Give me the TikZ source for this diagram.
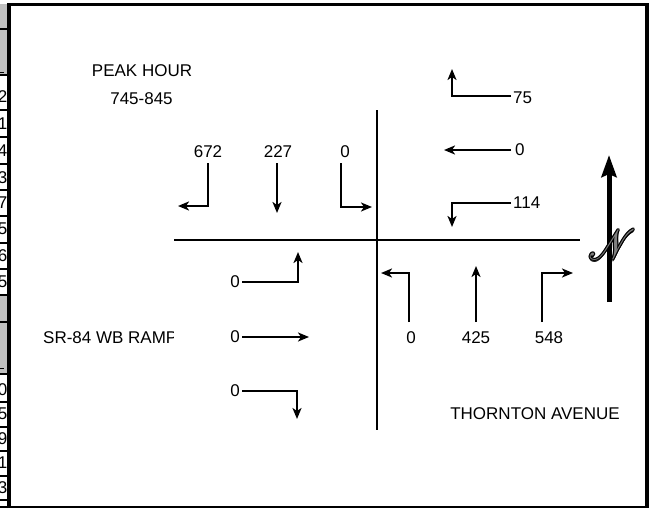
\documentclass[tikz,border=0pt]{standalone}
\usepackage{fontspec}
\setmainfont{Liberation Sans}
\usepackage{mathrsfs}
\usetikzlibrary{arrows.meta,calc}
\definecolor{cellgray}{RGB}{192,192,192}
\definecolor{ngray}{RGB}{128,128,128}
\newcommand{\northN}{\scalebox{1.5}[1.7]{\fontsize{24.88}{25}\selectfont$\mathscr{N}$}}
\begin{document}
\begin{tikzpicture}[x=1pt,y=-1pt,
  lbl/.style={font=\fontsize{17}{20}\selectfont, inner sep=0pt},
  mv/.style={line width=2pt, -{Stealth[length=11pt,width=9pt,inset=3pt]}},
  road/.style={line width=2pt},
  frame/.style={line width=3.5pt},
  cellline/.style={line width=1.3pt},
  nletter/.style={inner sep=0pt}]
\useasboundingbox (0,0) rectangle (652,508);
% --- left strip (cut-off table) ---
\begin{scope}
\clip (0,0) rectangle (9,508);
\fill[cellgray] (0,4) rectangle (8,28);
\fill[cellgray] (0,30) rectangle (8,74);
\fill[cellgray] (0,296) rectangle (8,321);
\fill[cellgray] (0,323) rectangle (8,373);
\foreach \yy in {29,75,110,137,164,190,216,243,269,295,322,374,402,427,451,476,500}
  \draw[cellline] (0,\yy) -- (9,\yy);
\draw[line width=1.3pt] (0,72.5) -- (4,72.5);
\draw[line width=1.3pt] (0,368.5) -- (4,368.5);
\foreach \v/\yy [count=\i] in {2/97,1/124,4/151,3/178,7/203,5/229,6/256,5/282,0/390,5/414,9/439,1/463,3/488}
  \node[lbl,anchor=east] (t\i) at (7.5,\yy) {\v};
\end{scope}
% --- frame ---
\draw[frame] (9,508) -- (9,4.7) -- (647,4.7) -- (647,508);
\draw[line width=1.2pt] (0,507) -- (647,507);
% --- roads ---
\coordinate (vt) at (376.5,110); \coordinate (vb) at (376.5,430);
\coordinate (hl) at (174,240); \coordinate (hr) at (580,240);
\draw[road] (vt) -- (vb);
\draw[road] (hl) -- (hr);
% --- texts ---
\node[lbl] (peak) at (142,71) {PEAK HOUR};
\node[lbl] (time) at (141.5,99) {745-845};
\begin{scope}
\clip (40,320) rectangle (173.5,355);
\node[lbl,anchor=west] (sr) at (43,338) {SR-84 WB RAMP};
\end{scope}
\node[lbl] (thornton) at (535,414) {THORNTON AVENUE};
% --- southbound (north leg) ---
\node[lbl] (sbl) at (208,152) {672};
\node[lbl] (sbt) at (278,152) {227};
\node[lbl] (sbr) at (345,152) {0};
\coordinate (a1) at (208,163); \coordinate (a1e) at (178,206);
\coordinate (a2) at (277,163); \coordinate (a2e) at (277,213);
\coordinate (a3) at (341,163); \coordinate (a3e) at (372,207);
\draw[mv] (a1) |- (a1e);
\draw[mv] (a2) -- (a2e);
\draw[mv] (a3) |- (a3e);
% --- westbound (east leg) ---
\node[lbl,anchor=west] (wbr) at (513,98) {75};
\node[lbl,anchor=west] (wbt) at (515,150) {0};
\node[lbl,anchor=west] (wbl) at (513,203) {114};
\coordinate (b1) at (511,96); \coordinate (b1e) at (452,69);
\coordinate (b2) at (511,150); \coordinate (b2e) at (444,150);
\coordinate (b3) at (511,203); \coordinate (b3e) at (452,227);
\draw[mv] (b1) -| (b1e);
\draw[mv] (b2) -- (b2e);
\draw[mv] (b3) -| (b3e);
% --- eastbound (west leg) ---
\node[lbl,anchor=east] (ebl) at (240,282) {0};
\node[lbl,anchor=east] (ebt) at (240,337) {0};
\node[lbl,anchor=east] (ebr) at (240,391) {0};
\coordinate (c1) at (242,282); \coordinate (c1e) at (298,252);
\coordinate (c2) at (242,337); \coordinate (c2e) at (309,337);
\coordinate (c3) at (242,391); \coordinate (c3e) at (297,419);
\draw[mv] (c1) -| (c1e);
\draw[mv] (c2) -- (c2e);
\draw[mv] (c3) -| (c3e);
% --- northbound (south leg) ---
\node[lbl] (nbl) at (411,338) {0};
\node[lbl] (nbt) at (476,338) {425};
\node[lbl] (nbr) at (549,338) {548};
\coordinate (d1) at (409,322); \coordinate (d1e) at (381,273);
\coordinate (d2) at (476,322); \coordinate (d2e) at (476,266);
\coordinate (d3) at (542,322); \coordinate (d3e) at (573,273);
\draw[mv] (d1) |- (d1e);
\draw[mv] (d2) -- (d2e);
\draw[mv] (d3) |- (d3e);
% --- north arrow ---
\coordinate (ns) at (609,302); \coordinate (nt) at (609,155);
\draw[line width=5pt, -{Stealth[length=22pt,width=15pt,inset=3pt]}] (ns) -- (nt);
\foreach \a in {0,45,...,315}
  \node[nletter, text=black] (Nh\a) at ($(612,245)+(\a:1.2)$) {\northN};
\node[nletter, text=ngray] (north) at (612,245) {\northN};
\end{tikzpicture}
\end{document}
